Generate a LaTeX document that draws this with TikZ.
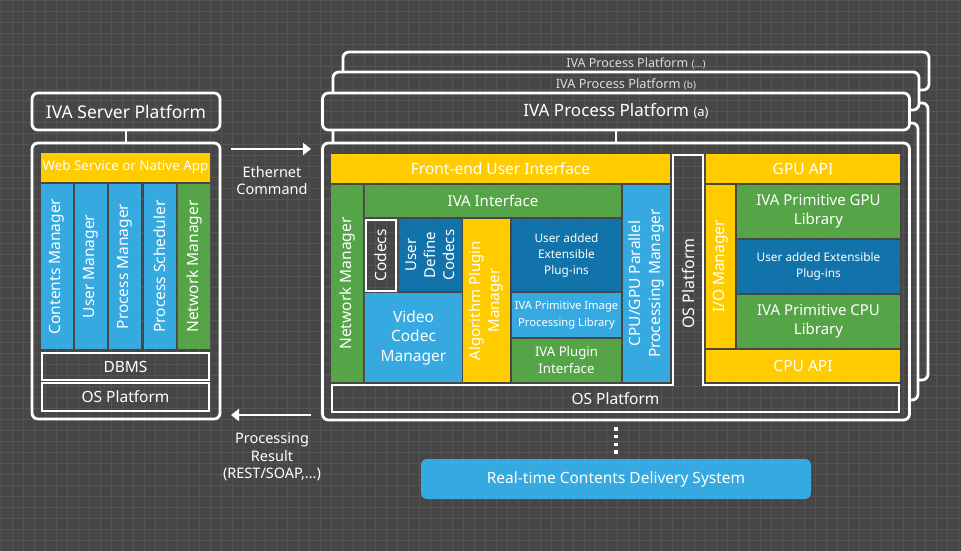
\documentclass[tikz,border=0pt]{standalone}
\usepackage{fontspec}
\setmainfont{Noto Sans}
\usetikzlibrary{arrows.meta}
\definecolor{bgc}{HTML}{464646}
\definecolor{gridc}{HTML}{545454}
\definecolor{cyel}{HTML}{FFCC00}
\definecolor{cgrn}{HTML}{55A548}
\definecolor{clbl}{HTML}{36A9E1}
\definecolor{cdbl}{HTML}{1273AA}
\definecolor{dimtext}{HTML}{DDDDDD}
\newcommand\fs[2]{\fontsize{#1pt}{#2pt}\selectfont}
\newcommand\gridlines{%
  \foreach \i in {0,...,87}{\draw[gridc,line width=1pt] ({1+11*\i},0) -- ({1+11*\i},551);}%
  \foreach \j in {0,...,50}{\draw[gridc,line width=1pt] (0,{1+11*\j}) -- (961,{1+11*\j});}}
\newcommand\gridpatch[4]{%
  \begin{scope}\clip[rounded corners=6pt] (#1,#2) rectangle (#3,#4);
  \fill[bgc] (#1,#2) rectangle (#3,#4); \gridlines\end{scope}}
\newcommand\cellbox[7]{\node[#1, minimum width={#5-#3}, minimum height={#6-#4}] (#2) at ({(#3+#5)/2},{(#4+#6)/2}) {#7};}
\newcommand\rcellbox[7]{\node[#1, rotate=90, minimum width={#6-#4}, minimum height={#5-#3}] (#2) at ({(#3+#5)/2},{(#4+#6)/2}) {#7};}
\tikzset{
  cell/.style={inner sep=0pt, outer sep=0pt, text=white, align=center, font=\fs{15.5}{19.5}},
  yel/.style={cell, fill=cyel},
  grn/.style={cell, fill=cgrn},
  lbl/.style={cell, fill=clbl},
  dbl/.style={cell, fill=cdbl},
  small/.style={font=\fs{11.8}{16}},
  wbox/.style={cell, draw=white, line width=2pt},
  pbox/.style={cell, draw=white, line width=2.8pt, rounded corners=6pt},
  wline/.style={draw=white, line width=2pt},
  conn/.style={draw=white, line width=2.6pt},
  arr/.style={draw=white, line width=2.2pt, -{Triangle[length=8pt,width=12pt]}},
  plain/.style={inner sep=0pt, text=white, align=center},
}
\begin{document}
\begin{tikzpicture}[x=1pt,y=-1pt]
\useasboundingbox (0,0) rectangle (961,551);
\fill[bgc] (0,0) rectangle (961,551);
\gridlines

% ---------- IVA Server Platform ----------
\cellbox{pbox,font=\fs{17.5}{20}}{svt}{32}{93}{220}{130}{IVA Server Platform}
\cellbox{pbox}{svb}{32}{143}{220}{419}{}
\draw[conn] (svt.south) -- (svb.north);
\cellbox{yel,font=\fs{13.4}{16}}{web}{41}{153}{210}{182}{Web Service or Native App}
\rcellbox{lbl}{cm}{41}{184}{73}{349}{Contents Manager}
\rcellbox{lbl}{um}{75}{184}{107}{349}{User Manager}
\rcellbox{lbl}{pm}{109}{184}{141}{349}{Process Manager}
\rcellbox{lbl}{psch}{144}{184}{176}{349}{Process Scheduler}
\rcellbox{grn}{snm}{178}{184}{210}{349}{Network Manager}
\cellbox{wbox}{dbms}{42}{353}{209}{380}{DBMS}
\cellbox{wbox}{sos}{42}{383}{209}{411}{OS Platform}

% ---------- arrows ----------
\coordinate (eths) at (231,149);
\coordinate (ethe) at (311,149);
\draw[arr] (eths) -- (ethe);
\node[plain, font=\fs{14.5}{17}] (ethlbl) at (272,181) {Ethernet\\Command};
\coordinate (ress) at (311,415);
\coordinate (rese) at (231,415);
\draw[arr] (ress) -- (rese);
\node[plain, font=\fs{14.5}{17.5}] (reslbl) at (272,457) {Processing\\Result\\(REST/SOAP,...)};

% ---------- stacked process platforms ----------
\gridpatch{343}{52}{929}{90}
\cellbox{pbox}{pct}{343}{52}{929}{90}{}
\node[plain, text=dimtext, font=\fs{12.5}{14}] (pclbl) at (636,63.5) {IVA Process Platform {\fs{10}{12}(...)}};
\gridpatch{343}{103}{928}{380}
\cellbox{pbox}{pcb}{343}{103}{928}{380}{}
\draw[conn] (pct.south) -- (pcb.north);

\gridpatch{333}{72}{919}{110}
\cellbox{pbox}{pbt}{333}{72}{919}{110}{}
\node[plain, text=dimtext, font=\fs{12.8}{14}] (pblbl) at (626,84) {IVA Process Platform {\fs{10}{12}(b)}};
\gridpatch{333}{123}{918}{400}
\cellbox{pbox}{pbb}{333}{123}{918}{400}{}
\draw[conn] (pbt.south) -- (pbb.north);

\gridpatch{322.5}{93}{909.5}{130}
\cellbox{pbox,font=\fs{17}{20}}{pat}{322.5}{93}{909.5}{130}{IVA Process Platform {\fs{13}{15}(a)}}
\gridpatch{322.5}{143}{909.5}{420}
\cellbox{pbox}{pab}{322.5}{143}{909.5}{420}{}
\draw[conn] (pat.south) -- (pab.north);

% ---------- platform (a) contents ----------
\cellbox{yel}{feui}{331}{154}{670}{183}{Front-end User Interface}
\rcellbox{grn}{pnm}{331}{185}{363}{382}{Network Manager}
\cellbox{grn,font=\fs{15}{18}}{ivai}{365}{185}{621}{217}{IVA Interface}
\rcellbox{wbox}{codecs}{366}{220}{396}{291}{Codecs}
\rcellbox{dbl,font=\fs{15}{19}}{udc}{399}{219}{462}{291}{User\\Define\\Codecs}
\cellbox{lbl}{vcm}{365}{293}{462}{382}{Video\\Codec\\Manager}
\rcellbox{yel,font=\fs{15}{19}}{apm}{463}{219}{510}{382}{Algorithm Plugin\\Manager}
\cellbox{dbl,small}{uaep}{512}{219}{621}{291}{User added\\Extensible\\Plug-ins}
\cellbox{lbl,font=\fs{11.2}{17}}{ipipl}{512}{293}{621}{337}{IVA Primitive Image\\Processing Library}
\cellbox{grn,font=\fs{13.2}{17}}{ipi}{512}{339}{621}{382}{IVA Plugin\\Interface}
\rcellbox{lbl}{cgppm}{623}{185}{670}{382}{CPU/GPU Parallel\\Processing Manager}

\draw[wline] (332,385) -- (673,385) -- (673,155) -- (703,155) -- (703,385) -- (899,385) -- (899,412) -- (332,412) -- cycle;
\node[plain, rotate=90, font=\fs{16}{19}] (osv) at (688,283.5) {OS Platform};
\node[plain, font=\fs{15.5}{19}] (osh) at (615.5,398.5) {OS Platform};

\cellbox{yel}{gpuapi}{706}{154}{900}{183}{GPU API}
\rcellbox{yel}{iom}{706}{185}{735}{348}{I/O Manager}
\cellbox{grn,font=\fs{15}{19.5}}{ipgl}{737}{185}{900}{238}{IVA Primitive GPU\\Library}
\cellbox{dbl,small}{uaep2}{737}{240}{900}{293}{User added Extensible\\Plug-ins}
\cellbox{grn,font=\fs{15}{19.5}}{ipcl}{737}{295}{900}{348}{IVA Primitive CPU\\Library}
\cellbox{yel}{cpuapi}{706}{350}{900}{382}{CPU API}

% ---------- delivery ----------
\coordinate (dots) at (616,427.3);
\coordinate (dote) at (616,455);
\draw[white, line width=3.8pt, dash pattern=on 3.4pt off 4.3pt] (dots) -- (dote);
\cellbox{lbl,rounded corners=6pt}{rtcds}{421}{459}{811}{499}{Real-time Contents Delivery System}
\end{tikzpicture}
\end{document}
